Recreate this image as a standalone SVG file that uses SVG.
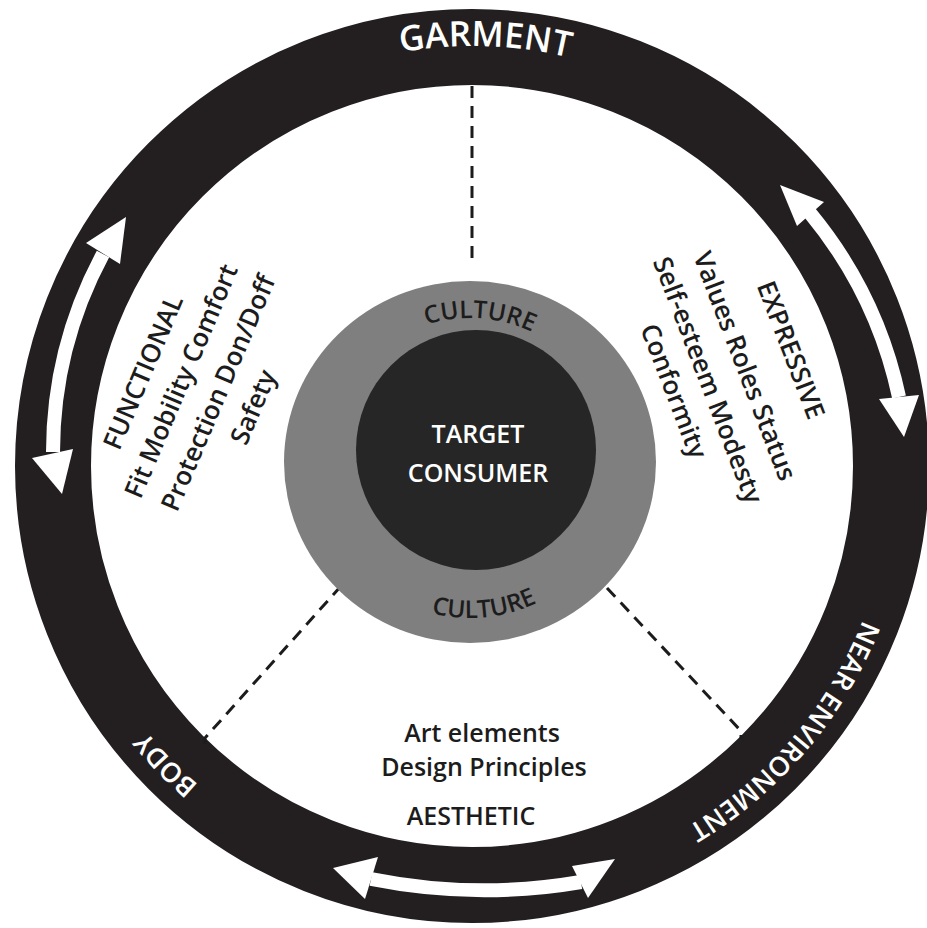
<svg xmlns="http://www.w3.org/2000/svg" width="927" height="928" viewBox="0 0 927 928">
<style>
.txt{font-family:"Open Sans","Liberation Sans",sans-serif;font-weight:600;}
.ring-label{fill:#ffffff;}
.body{fill:#1c1c1c;font-size:26px;}
.dash{fill:none;stroke:#1c1c1c;stroke-width:3;stroke-dasharray:12 8;}
.band{fill:none;stroke:#ffffff;stroke-width:14;}
.head{fill:#ffffff;}
</style>
<defs>
<path id="ringPath" d="M52,466 A420,420 0 1 1 892,466 A420,420 0 1 1 52,466"/>
<path id="cultTop" d="M326,462 A144,144 0 0 1 614,462"/>
<path id="cultBot" d="M314,462 A156,156 0 0 0 626,462"/>
</defs>
<rect width="927" height="928" fill="#ffffff"/>

<g id="outer-ring">
<circle cx="472" cy="466" r="419" fill="none" stroke="#231f20" stroke-width="76"/>
<text class="txt ring-label" font-size="35"><textPath href="#ringPath" startOffset="25.5%" text-anchor="middle">GARMENT</textPath></text>
<text class="txt ring-label" font-size="27"><textPath href="#ringPath" startOffset="61.2%" text-anchor="middle">NEAR ENVIRONMENT</textPath></text>
<text class="txt ring-label" font-size="27"><textPath href="#ringPath" startOffset="87.7%" text-anchor="middle">BODY</textPath></text>
</g>

<g id="connectors">
<path class="dash" d="M472,86 L472,266"/>
<path class="dash" d="M341,586 L205,738 L205,744"/>
<path class="dash" d="M607,588 L741,731 L741,739"/>
</g>

<g id="arrows">
<path class="band" d="M53,452 A420,420 0 0 1 103,254"/>
<polygon class="head" points="126,217 86,243 120,264"/>
<polygon class="head" points="62,494 32,458 73,449"/>
<path class="band" d="M810,213 A430,430 0 0 1 899,397"/>
<polygon class="head" points="780,185 797,226 824,202"/>
<polygon class="head" points="904,437 879,399 919,395"/>
<path class="band" d="M371,879 Q476,900 581,882"/>
<polygon class="head" points="333,868 378,857 365,899"/>
<polygon class="head" points="615,859 572,866 588,898"/>
</g>

<g id="culture">
<ellipse cx="470" cy="462" rx="186" ry="181" fill="#7f7f7f"/>
<text class="txt" font-size="24.5" fill="#1c1c1c"><textPath href="#cultTop" startOffset="52.2%" text-anchor="middle">CULTURE</textPath></text>
<text class="txt" font-size="24.5" fill="#1c1c1c"><textPath href="#cultBot" startOffset="53.1%" text-anchor="middle">CULTURE</textPath></text>
</g>

<g id="target-consumer">
<circle cx="476" cy="450" r="120" fill="#262626"/>
<text class="txt" font-size="25" fill="#ffffff" text-anchor="middle"><tspan x="478" y="443">TARGET</tspan><tspan x="478" y="482">CONSUMER</tspan></text>
</g>

<g id="functional">
<text class="txt body" text-anchor="middle" transform="translate(143,372) rotate(-67)" dy="0.35em">FUNCTIONAL</text>
<text class="txt body" text-anchor="middle" transform="translate(181,381) rotate(-67)" dy="0.35em">Fit Mobility Comfort</text>
<text class="txt body" text-anchor="middle" transform="translate(218,393) rotate(-67)" dy="0.35em">Protection Don/Doff</text>
<text class="txt body" text-anchor="middle" transform="translate(253,407) rotate(-67)" dy="0.35em">Safety</text>
</g>

<g id="expressive">
<text class="txt body" text-anchor="middle" transform="translate(791,350) rotate(69)" dy="0.35em">EXPRESSIVE</text>
<text class="txt body" text-anchor="middle" transform="translate(745,366) rotate(69)" dy="0.35em">Values Roles Status</text>
<text class="txt body" text-anchor="middle" transform="translate(708,380) rotate(69)" dy="0.35em">Self-esteem Modesty</text>
<text class="txt body" text-anchor="middle" transform="translate(674,391) rotate(69)" dy="0.35em">Conformity</text>
</g>

<g id="aesthetic">
<text class="txt" font-size="25" fill="#1c1c1c" text-anchor="middle"><tspan x="482" y="742">Art elements</tspan><tspan x="484" y="776">Design Principles</tspan><tspan x="471" y="825">AESTHETIC</tspan></text>
</g>
</svg>
